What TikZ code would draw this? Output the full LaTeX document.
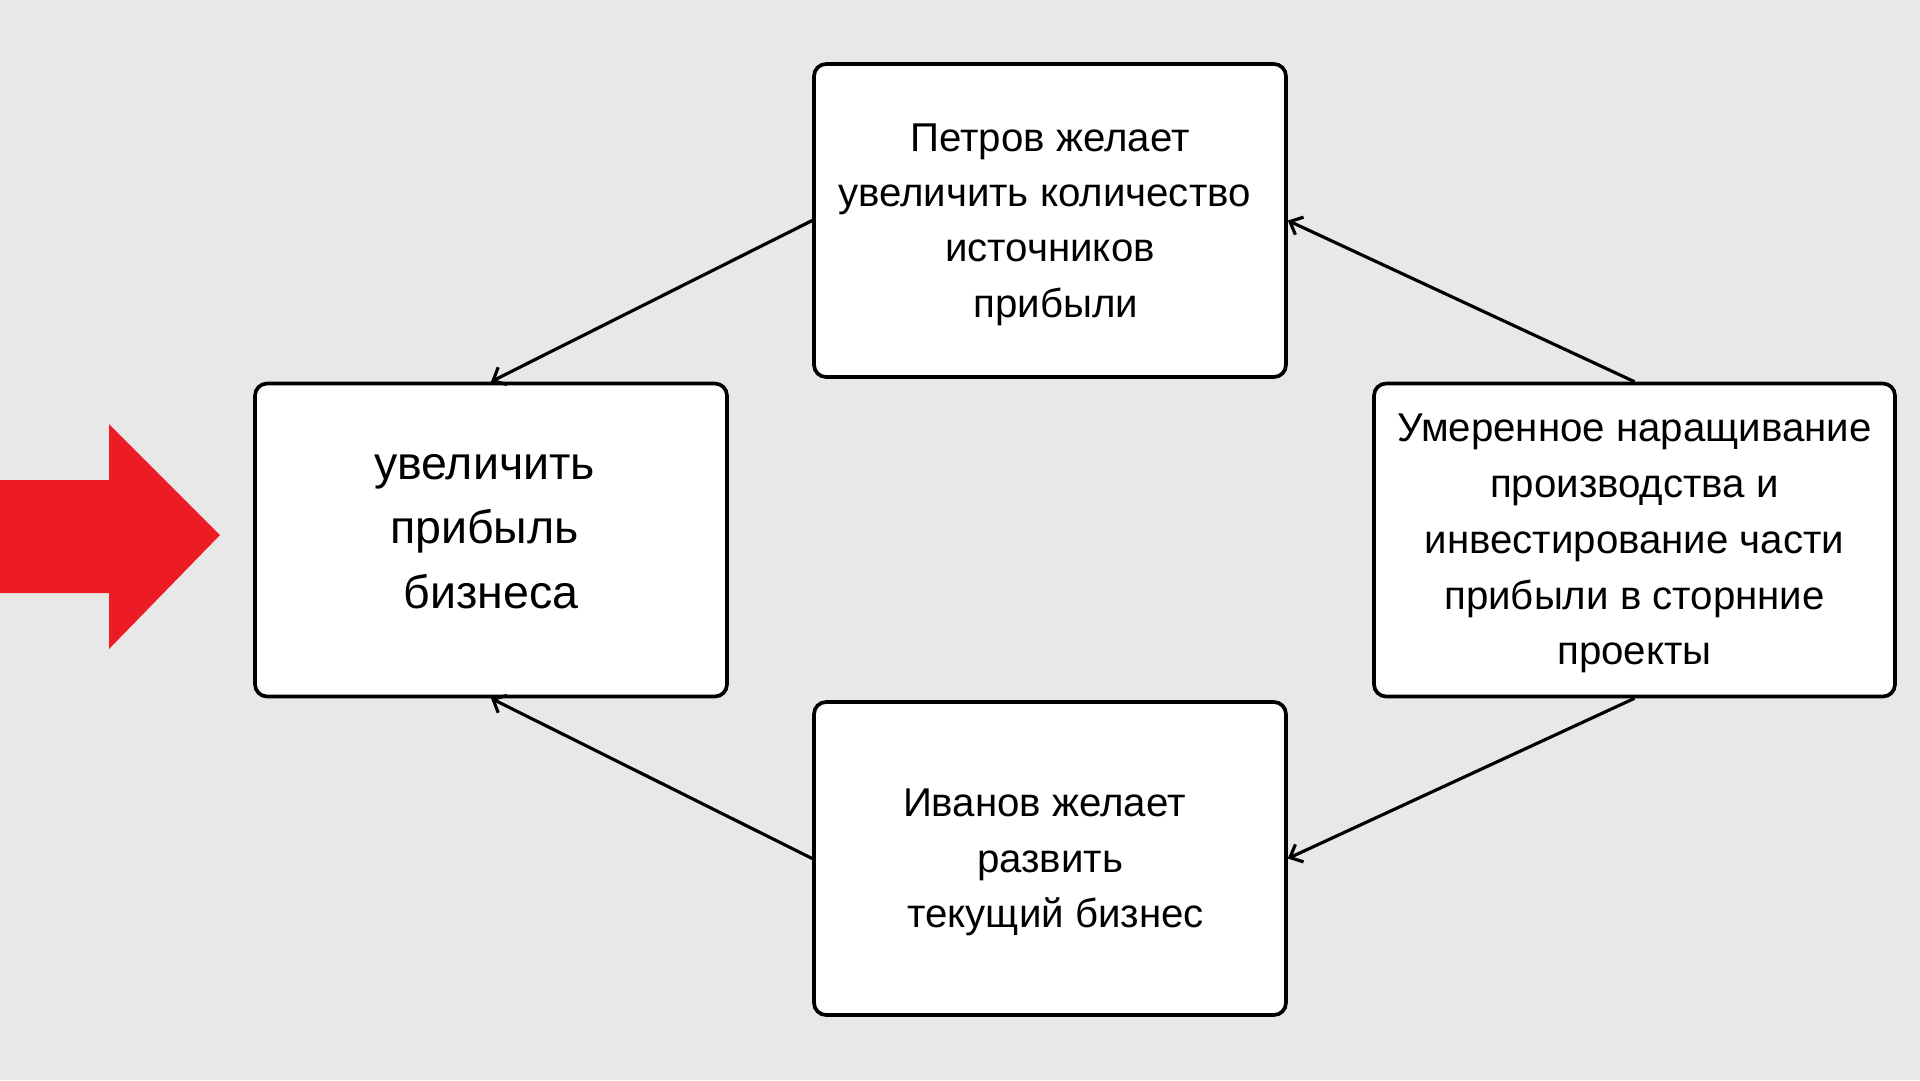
\documentclass[tikz,border=0pt]{standalone}
\usepackage{fontspec}
\setmainfont{Liberation Sans}
\usepackage{xcolor}
\usepackage{tikz}
\usetikzlibrary{arrows.meta,positioning,shapes}
\definecolor{backgrey}{HTML}{E8E8E8}
\definecolor{signred}{HTML}{ED1C24}
\newcommand{\blankgap}{\kern.28em}
\tikzset{
    >={Straight Barb[length=6pt,width=11pt,line width=1.8pt]},
    punkt/.style={
        rectangle,
        rounded corners=0.24cm,
        fill=white,
        draw=black, line width=2.1pt,
        minimum width=9.44cm,
        minimum height=6.26cm,
        align=center,
        inner sep=0pt,
        font={\fontsize{22.9pt}{31.4pt}\selectfont}
    },
    line/.style={draw, line width=1.8pt, ->},
}
\begin{document}
\begin{tikzpicture}
[
    x=0.02cm, y=-0.02cm,
]
\fill[backgrey] (0,0) rectangle (1920,1080);
% red pointer
\fill[signred] (0,480) -- (109,480) -- (109,424) -- (220,535) -- (109,649) -- (109,593) -- (0,593) -- cycle;
\node(Goal) at (491,540)[punkt, text depth=9.8pt, font={\fontsize{26.5pt}{36.9pt}\selectfont}]{увеличить\blankgap\\прибыль\blankgap\\бизнеса};
\node(Petrov) at (1050,220.5)[punkt, text depth=-3pt]{Петров желает\\увеличить количество\blankgap\\источников\\\blankgap прибыли};
\node(Ivanov) at (1050,858.5)[punkt, text depth=0.4pt]{Иванов желает\blankgap\\развить\\\blankgap текущий бизнес};
\node(Mix) at (1634.5,540)[punkt, text depth=0.8pt, minimum width=10.42cm, font={\fontsize{22.9pt}{31.8pt}\selectfont}]{Умеренное наращивание\\производства и\\инвестирование части\\прибыли в сторнние\\проекты};
\draw[line] (Petrov.west) to (Goal.north);
\draw[line] (Mix.north) to (Petrov.east);
\draw[line] (Mix.south) to (Ivanov.east);
\draw[line] (Ivanov.west) to (Goal.south);
\end{tikzpicture}
\end{document}
